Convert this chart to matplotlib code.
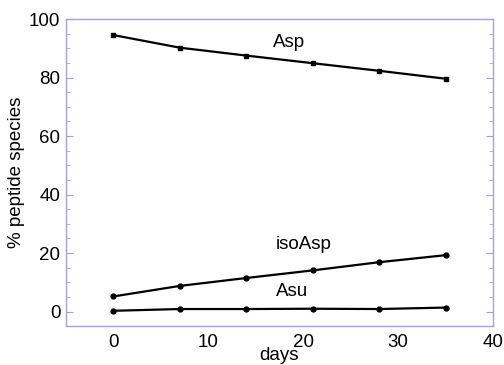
import matplotlib
matplotlib.use('Agg')
import matplotlib.pyplot as plt
from matplotlib.ticker import MultipleLocator

plt.rcParams['font.family'] = ['Liberation Sans', 'DejaVu Sans']

# Time points (days) and percentage of each peptide species
days = [0, 7, 14, 21, 28, 35]
asp = [94.5, 90.2, 87.5, 84.9, 82.3, 79.6]
iso_asp = [5.2, 8.8, 11.5, 14.1, 16.9, 19.3]
asu = [0.3, 0.9, 0.9, 1.0, 0.9, 1.4]

frame = '#a0a0f0'

fig = plt.figure(figsize=(5.04, 3.65), dpi=100)
ax = fig.add_axes([66 / 504, 1 - 326 / 365, (493 - 66) / 504, (326 - 19) / 365])

ax.plot(days, asp, color='black', lw=1.6, marker='s', ms=3.5)
ax.plot(days, iso_asp, color='black', lw=1.6, marker='o', ms=3.5)
ax.plot(days, asu, color='black', lw=1.6, marker='o', ms=3.5)

ax.text(18.5, 92.1, 'Asp', fontsize=13.5, ha='center', va='center')
ax.text(20.1, 22.8, 'isoAsp', fontsize=13.5, ha='center', va='center')
ax.text(18.8, 6.8, 'Asu', fontsize=13.5, ha='center', va='center')

ax.set_xlim(-5, 40)
ax.set_ylim(-4.9, 100)
ax.set_xticks([0, 10, 20, 30, 40])
ax.set_yticks([0, 20, 40, 60, 80, 100])
ax.yaxis.set_minor_locator(MultipleLocator(5))

for s in ax.spines.values():
    s.set_color(frame)
    s.set_linewidth(1.0)

ax.tick_params(axis='y', which='both', direction='in', left=True, right=True,
               color=frame, labelsize=13.5, pad=4)
ax.tick_params(axis='y', which='major', length=5)
ax.tick_params(axis='y', which='minor', length=3)
ax.tick_params(axis='x', length=0, labelsize=13.5, pad=6)

ax.set_xlabel('days', fontsize=13.5, labelpad=-3)
ax.set_ylabel('% peptide species', fontsize=13.5, labelpad=3)

fig.savefig('out.png', dpi=100)
